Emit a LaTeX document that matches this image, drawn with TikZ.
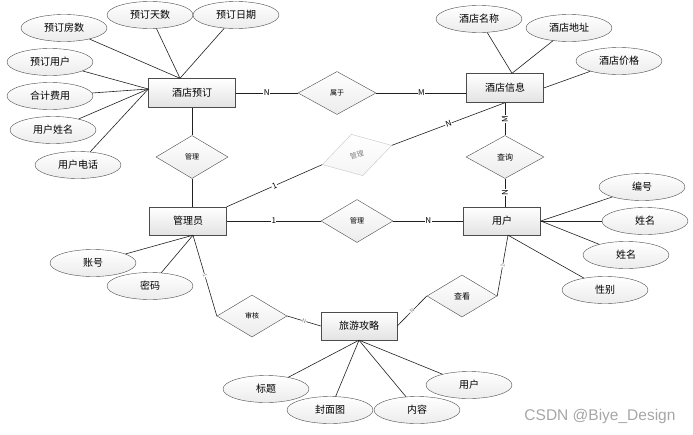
\documentclass[tikz,border=0pt]{standalone}
\usepackage{fontspec}
\setmainfont{Noto Sans CJK SC}
\newfontfamily\wmfont{Liberation Sans}
\usetikzlibrary{shapes.geometric,calc}

\tikzset{
  entity/.style={draw=gray!60!black, top color=white, bottom color=gray!22, minimum width=77pt, minimum height=28pt, inner sep=0pt, font=\fontsize{10}{12}\selectfont},
  attr/.style={ellipse, draw=gray!60!black, top color=white, bottom color=gray!15, minimum width=86pt, minimum height=27pt, inner sep=0pt, font=\fontsize{10}{12}\selectfont},
  rel/.style={diamond, draw=gray!60!black, top color=white, bottom color=gray!15, minimum width=72pt, minimum height=43pt, inner sep=0pt, font=\fontsize{7}{8}\selectfont},
  card/.style={fill=white, inner sep=0.5pt, font=\fontsize{8}{9}\selectfont},
  smallcard/.style={fill=white, inner sep=0.3pt, text=gray, font=\fontsize{5.5}{6}\selectfont, sloped},
  link/.style={draw=gray!25!black, line width=0.6pt}
}

\begin{document}
\begin{tikzpicture}[x=1pt,y=-1pt]
\useasboundingbox (0,0) rectangle (693,434);
\node[entity, minimum width=87pt, minimum height=29pt] (jdyd) at (192,93) {酒店预订};
\node[entity, minimum height=29pt] (jdxx) at (505,88) {酒店信息};
\node[entity] (gly) at (188,221) {管理员};
\node[entity] (yh) at (502,221) {用户};
\node[entity, minimum width=76pt] (lygl) at (359,326) {旅游攻略};

\node[rel, minimum width=78pt] (sy) at (337,93) {属于};
\node[rel] (gl1) at (192,157) {管理};
\node[rel, rotate=15.5, draw=gray!45, text=gray, bottom color=gray!8] (gl2) at (357,155) {管理};
\node[rel, minimum width=78pt, font=\fontsize{8}{9}\selectfont] (cx) at (505,157) {查询};
\node[rel] (gl3) at (357,221) {管理};
\node[rel, minimum width=70pt, minimum height=42pt] (sh) at (252,316) {审核};
\node[rel, minimum width=70pt, minimum height=42pt, font=\fontsize{8}{9}\selectfont] (ck) at (462,296) {查看};

\coordinate (jt) at ($(jdyd.north)+(-12,0)$);
\coordinate (jl) at ($(jdyd.west)+(0,-4)$);
\coordinate (xt) at ($(jdxx.north)+(7,0)$);
\coordinate (gb) at ($(gly.south)+(5,0)$);
\coordinate (yb) at ($(yh.south)+(6,0)$);

\foreach \n/\x/\y/\t/\e in {a1/64/28/预订房数/jt, a2/150/15/预订天数/jt, a3/236/15/预订日期/jt,
  a4/50/62/预订用户/jl, a5/50/96/合计费用/jl, a6/53/130/用户姓名/jl, a7/78/165/用户电话/jl,
  b1/479/19/酒店名称/xt, b2/569/28/酒店地址/xt, b3/619/61/酒店价格/jdxx.east,
  c1/642/187/编号/yh.east, c2/645/221/姓名/yh.east, c3/626/255/姓名/yh.east, c4/605/290/性别/yb,
  d1/93/263/账号/gb, d2/150/286/密码/gb,
  e1/266/389/标题/lygl.south, e2/330/410/封面图/lygl.south, e3/417/410/内容/lygl.south, e4/469/385/用户/lygl.south} {
\node[attr] (\n) at (\x,\y) {\t};
\draw[link] (\n) -- (\e);
}

\draw[link] (jdyd) -- node[card] {N} (sy);
\draw[link] (sy.east) -- node[card] {M} (sy.east -| jdxx.west);
\draw[link] (jdyd) -- (gl1);
\draw[link] (gl1.south) -- (gl1.south |- gly.north);
\draw[link] (gly.north east) -- node[card, sloped] {1} (gl2.west);
\draw[link] (gl2.east) -- node[card, sloped] {N} (jdxx.south);
\draw[link] (jdxx.south) -- node[card, rotate=90] {M} (cx.north);
\draw[link] (cx.south) -- node[card, rotate=90] {N} (cx.south |- yh.north);
\draw[link] (gly) -- node[card] {1} (gl3);
\draw[link] (gl3) -- node[card] {N} (yh);
\draw[link] (gb) -- node[smallcard] {1} (sh.west);
\draw[link] (sh.east) -- node[smallcard] {N} (lygl.west);
\draw[link] (lygl.east) -- node[smallcard] {N} (ck.west);
\draw[link] (ck.east) -- node[smallcard] {1} (yb);

\node[text=gray!70, font=\wmfont\fontsize{15.5}{17}\selectfont, anchor=east] (wm) at (679,416) {CSDN @Biye\_Design};
\end{tikzpicture}
\end{document}
